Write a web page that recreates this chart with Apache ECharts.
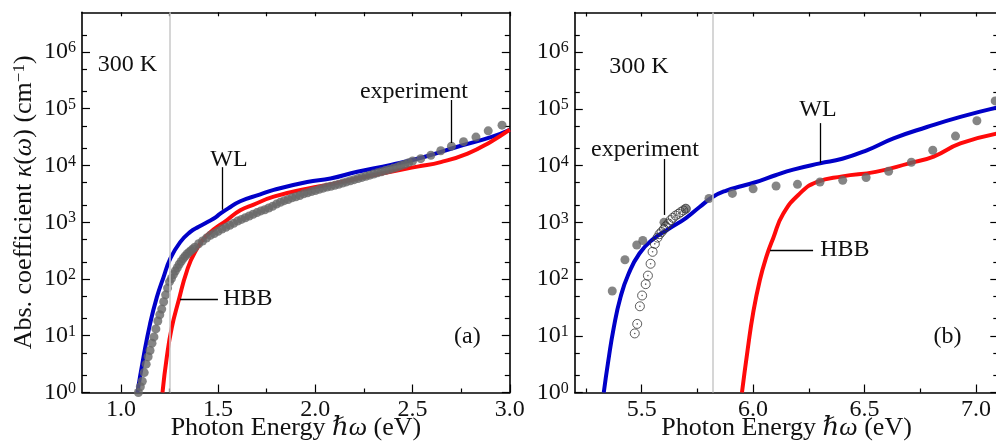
<!DOCTYPE html>
<html>
<head>
<meta charset="utf-8">
<script src="https://cdn.jsdelivr.net/npm/echarts@6/dist/echarts.min.js"></script>
<style>
html,body{margin:0;padding:0;background:#fff;}
#c{width:996px;height:441px;}
</style>
</head>
<body>
<div id="c"></div>
<script>
// ---------- DATA (panel a) ----------
const wlA_E = [1.085,1.116,1.15,1.185,1.219,1.254,1.305,1.357,1.40,1.443,1.48,1.511,1.55,1.614,1.717,1.786,1.958,2.078,2.216,2.388,2.559,2.731,2.903,3.0];
const wlA_K = [1,4.17,16.2,47.9,107,229,447,676,832,1000,1175,1413,1738,2344,3090,3715,5129,5888,7762,10230,14130,21380,31620,42660];
const hbbA_E = [1.214,1.236,1.262,1.297,1.34,1.382,1.443,1.546,1.614,1.683,1.786,1.958,2.095,2.216,2.388,2.525,2.645,2.783,2.903,3.0];
const hbbA_K = [1,4.17,14.1,41.7,141,302,589,1096,1622,2042,2818,3890,4786,5888,7762,9550,11480,16220,26300,42660];
const expA_E = [1.09,1.10,1.11,1.12,1.13,1.14,1.15,1.16,1.17,1.18,1.19,1.20,1.21,1.22,1.23,1.24,1.25,1.26,1.27,1.28,1.29,1.30,1.31,1.32,1.33,1.34,1.35,1.36,1.37,
  1.38,1.40,1.42,1.44,1.46,1.48,1.50,1.52,1.54,1.56,1.58,1.60,1.62,1.64,1.66,1.68,1.70,1.72,1.74,1.76,1.78,1.80,1.82,1.84,1.86,1.88,1.90,1.92,1.94,1.96,1.98,
  2.00,2.02,2.04,2.06,2.08,2.10,2.12,2.14,2.16,2.18,2.20,2.22,2.24,2.26,2.28,2.30,2.32,2.34,2.36,2.38,2.40,2.42,2.44,2.46,2.48,2.50,
  2.542,2.594,2.645,2.70,2.762,2.826,2.889,2.96];
const expA_K = [1,1.26,1.58,2.24,3.16,4.27,5.50,7.41,9.55,13.2,18.2,23.4,29.5,39.8,52.5,69.2,89.1,102,120,138,158,182,204,229,251,275,295,316,339,
  363,417,468,525,589,631,692,759,813,881,955,1047,1122,1202,1288,1380,1479,1585,1660,1778,1905,2089,2239,2399,2512,2692,2818,2951,3162,3311,3467,
  3631,3802,3981,4169,4315,4467,4677,4898,5129,5370,5623,5888,6166,6457,6761,7079,7413,7762,8128,8511,8913,9333,10000,10470,11220,12020,
  13180,15140,18200,21880,26300,31620,40740,51290];

// ---------- DATA (panel b) ----------
const wlB_E = [5.33,5.35,5.375,5.405,5.44,5.49,5.55,5.62,5.70,5.76,5.82,5.88,5.95,6.03,6.10,6.18,6.30,6.40,6.51,6.63,6.78,6.93,7.10];
const wlB_K = [1,3.55,14.1,47.9,120,282,501,759,1202,1862,2818,3631,4365,5370,6761,8511,10960,13180,18620,30200,47860,72440,107200];
const hbbB_E = [5.95,5.975,6.0,6.03,6.06,6.09,6.135,6.21,6.285,6.40,6.55,6.70,6.81,6.93,7.10];
const hbbB_K = [1,5.5,25.1,95.5,251,525,1413,3236,5129,6457,7762,10960,14450,24550,37150];
const expB_E = [5.368,5.425,5.478,5.505,5.60,5.698,5.802,5.907,6.0,6.103,6.199,6.30,6.402,6.507,6.608,6.71,6.806,6.908,7.004,7.086];
const expB_K = [61.7,219,398,479,1000,1738,2630,3236,3890,4365,4677,5129,5495,6166,7943,11480,18620,33110,61660,138000];
const openB_E = [5.469,5.48,5.492,5.502,5.518,5.528,5.54,5.549,5.559,5.571,5.58,5.589,5.60,5.608,5.62,5.63,5.64,5.652,5.665,5.675,5.687,5.698];
const openB_K = [11.0,16.2,33.1,51.3,81.3,115,186,302,417,537,617,676,759,851,955,1096,1202,1318,1413,1514,1622,1738];

// ---------- TICKS ----------
const xLabA = [1.0,1.5,2.0,2.5,3.0];
const xMinA = [1.25,1.75,2.25,2.75];
const xTopA = [1.0,1.25,1.5,1.75,2.0,2.25,2.5,2.75,3.0];
const xLabB = [5.5,6.0,6.5,7.0];
const xMinB = [5.25,5.75,6.25,6.75];
const xTopB = [5.25,5.5,5.75,6.0,6.25,6.5,6.75,7.0];
const yMajor = [1,10,100,1e3,1e4,1e5,1e6];
const yMinor = [2,5,20,50,200,500,2e3,5e3,2e4,5e4,2e5,5e5,2e6];
const yMin = 1, yMax = 5e6;

// ---------- ANNOTATIONS ----------
const bandGapA = 1.245, bandGapB = 5.821;
const textsA = [
  {name:'300 K', coord:[1.034, 5.9e5]},
  {name:'WL', coord:[1.556, 12760]},
  {name:'HBB', coord:[1.653, 44.5]},
  {name:'experiment', coord:[2.507, 197000]},
  {name:'(a)', coord:[2.782, 9.5]}
];
const leadersA = [
  [[1.523, 9333],[1.523, 1660]],
  [[1.304, 43.9],[1.499, 43.9]],
  [[2.701, 142600],[2.701, 24900]]
];
const textsB = [
  {name:'300 K', coord:[5.488, 5.55e5]},
  {name:'experiment', coord:[5.515, 18750]},
  {name:'WL', coord:[6.291, 95060]},
  {name:'HBB', coord:[6.412, 324]},
  {name:'(b)', coord:[6.872, 9.5]}
];
const leadersB = [
  [[5.600, 13090],[5.600, 1349]],
  [[6.30, 56100],[6.30, 11070]],
  [[6.076, 324],[6.269, 324]]
];

// ---------- STYLE ----------
const FONT = "'Liberation Serif','DejaVu Serif',serif";
const TXT = '#111';
const BLUE = '#0000c8';
const RED = '#ff0a0a';
const GRAY = '#666666';
const FS = 24;
const NFS = 26;

function pairs(xs, ys){ return xs.map((x,i)=>[x, ys[i]]); }

const nameRich = {
  i:{fontStyle:'italic', fontFamily:FONT, fontSize:NFS, color:TXT},
  s:{fontFamily:FONT, fontSize:17, color:TXT, verticalAlign:'top', lineHeight:8}
};

function xAxes(g, min, max, lab, minor, top){
  const common = {gridIndex:g, type:'value', min:min, max:max, splitLine:{show:false}, nameMoveOverlap:false};
  return [
    Object.assign({}, common, {
      position:'bottom',
      axisLine:{show:true, onZero:false, lineStyle:{color:'#000', width:1.6}},
      axisTick:{show:true, inside:true, length:8, customValues:lab, lineStyle:{color:'#000', width:1.2}},
      axisLabel:{show:true, customValues:lab, margin:5, formatter:(v)=>v.toFixed(1), fontFamily:FONT, fontSize:FS, color:TXT},
      name:'Photon Energy {i|ℏω} (eV)', nameLocation:'middle', nameGap:23,
      nameTextStyle:{fontFamily:FONT, fontSize:NFS, color:TXT, rich:nameRich}
    }),
    Object.assign({}, common, {
      position:'bottom',
      axisLine:{show:false, onZero:false},
      axisTick:{show:true, inside:true, length:4, customValues:minor, lineStyle:{color:'#000', width:1.2}},
      axisLabel:{show:false}
    }),
    Object.assign({}, common, {
      position:'top',
      axisLine:{show:true, onZero:false, lineStyle:{color:'#000', width:1.6}},
      axisTick:{show:true, inside:true, length:4, customValues:top, lineStyle:{color:'#000', width:1.2}},
      axisLabel:{show:false}
    })
  ];
}

function yAxes(g){
  const common = {gridIndex:g, type:'log', logBase:10, min:yMin, max:yMax, splitLine:{show:false}, nameMoveOverlap:false};
  const arr = [];
  ['left','right'].forEach(function(pos){
    arr.push(Object.assign({}, common, {
      position:pos,
      axisLine:{show:true, onZero:false, lineStyle:{color:'#000', width:1.6}},
      axisTick:{show:true, inside:true, length:8, customValues:yMajor, lineStyle:{color:'#000', width:1.2}},
      axisLabel:{show:pos==='left', customValues:yMajor, margin:6,
        formatter:(v)=>'{b|10}{s|' + Math.round(Math.log10(v)) + '}',
        rich:{
          b:{fontFamily:FONT, fontSize:FS, color:TXT, lineHeight:24},
          s:{fontFamily:FONT, fontSize:16, color:TXT, verticalAlign:'top', lineHeight:8}
        }
      }
    }));
    arr.push(Object.assign({}, common, {
      position:pos,
      axisLine:{show:false, onZero:false},
      axisTick:{show:true, inside:true, length:5, customValues:yMinor, lineStyle:{color:'#000', width:1.2}},
      axisLabel:{show:false}
    }));
  });
  return arr;
}

const xAxis = [].concat(xAxes(0, 0.8, 3.0, xLabA, xMinA, xTopA), xAxes(1, 5.2, 7.1, xLabB, xMinB, xTopB));
const yAxis = [].concat(yAxes(0), yAxes(1));
yAxis[0].name = 'Abs. coefficient {i|κ}({i|ω}) (cm{s|−1})';
yAxis[0].nameLocation = 'middle';
yAxis[0].nameGap = 45;
yAxis[0].nameTextStyle = {fontFamily:FONT, fontSize:NFS, color:TXT, rich:nameRich};

function lineSeries(xi, yi, xs, ys, color){
  return {type:'line', xAxisIndex:xi, yAxisIndex:yi, data:pairs(xs, ys), showSymbol:false, symbol:'none',
    smooth:0.5, lineStyle:{color:color, width:4, join:'round', cap:'butt'}, z:3, silent:true};
}
function dotSeries(xi, yi, xs, ys){
  return {type:'scatter', xAxisIndex:xi, yAxisIndex:yi, data:pairs(xs, ys), symbol:'circle', symbolSize:9,
    itemStyle:{color:GRAY}, z:4, silent:true};
}
function vline(xi, yi, x){
  return {type:'line', xAxisIndex:xi, yAxisIndex:yi, data:[], z:1, silent:true,
    markLine:{silent:true, symbol:['none','none'], label:{show:false}, animation:false,
      lineStyle:{color:'#c8c8c8', width:1.5, type:'solid'}, data:[{xAxis:x}]}};
}
function annot(xi, yi, texts, leaders){
  return {type:'scatter', xAxisIndex:xi, yAxisIndex:yi, data:[], z:6, silent:true,
    markLine:{silent:true, symbol:['none','none'], label:{show:false}, animation:false,
      lineStyle:{color:'#000', width:1.3, type:'solid'},
      data:leaders.map(l=>[{coord:l[0]},{coord:l[1]}])},
    markPoint:{silent:true, symbol:'circle', symbolSize:0, animation:false,
      itemStyle:{color:'rgba(0,0,0,0)'},
      label:{show:true, position:'inside', formatter:'{b}', fontFamily:FONT, fontSize:FS, color:TXT},
      data:texts.map(t=>({name:t.name, coord:t.coord}))}};
}

const series = [
  vline(0, 0, bandGapA),
  lineSeries(0, 0, wlA_E, wlA_K, BLUE),
  lineSeries(0, 0, hbbA_E, hbbA_K, RED),
  dotSeries(0, 0, expA_E, expA_K),
  annot(0, 0, textsA, leadersA),

  vline(3, 4, bandGapB),
  lineSeries(3, 4, wlB_E, wlB_K, BLUE),
  lineSeries(3, 4, hbbB_E, hbbB_K, RED),
  dotSeries(3, 4, expB_E, expB_K),
  {type:'scatter', xAxisIndex:3, yAxisIndex:4, data:pairs(openB_E, openB_K), symbol:'circle', symbolSize:9,
    itemStyle:{color:'rgba(255,255,255,0)', borderColor:'#333', borderWidth:1}, z:5, silent:true},
  {type:'scatter', xAxisIndex:3, yAxisIndex:4, data:pairs(openB_E, openB_K), symbol:'circle', symbolSize:1.6,
    itemStyle:{color:'#333'}, z:5, silent:true},
  annot(3, 4, textsB, leadersB)
];

const chart = echarts.init(document.getElementById('c'), null, {renderer:'canvas'});
chart.setOption({
  animation:false,
  backgroundColor:'#fff',
  grid:[
    {left:82, top:12.3, width:427.8, height:380.2, outerBoundsMode:'none', containLabel:false},
    {left:574.8, top:12.5, width:423.5, height:380, outerBoundsMode:'none', containLabel:false}
  ],
  xAxis:xAxis,
  yAxis:yAxis,
  series:series
});
</script>
</body>
</html>
